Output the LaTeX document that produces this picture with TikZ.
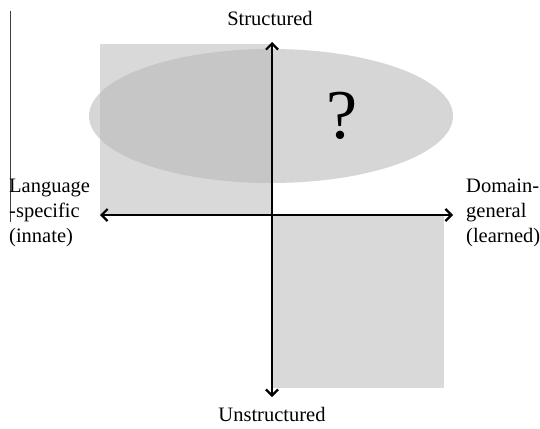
\documentclass[tikz,border=0pt]{standalone}
\usepackage{fontspec}
\setmainfont{Liberation Serif}
\usetikzlibrary{arrows.meta}
\definecolor{boxgray}{HTML}{D9D9D9}
\definecolor{ellgray}{HTML}{D6D6D6}
\definecolor{overgray}{HTML}{C6C6C6}
\tikzset{
  lbl/.style={font=\fontsize{20.5}{25}\selectfont, inner sep=0pt},
  axis/.style={line width=2.2pt, {Straight Barb[length=6pt,width=12pt,line width=2.2pt]}-{Straight Barb[length=6pt,width=12pt,line width=2.2pt]}},
}
\begin{document}
\begin{tikzpicture}[x=1pt,y=-1pt]
\useasboundingbox (0,0) rectangle (540,428);
% boxes
\fill[boxgray] (100,44) rectangle (272,215);
\fill[boxgray] (272,215) rectangle (444,388);
% ellipse
\fill[ellgray] (271,116) ellipse [x radius=182, y radius=67];
\begin{scope}
  \clip (100,44) rectangle (272,215);
  \fill[overgray] (271,116) ellipse [x radius=182, y radius=67];
\end{scope}
% thin left line
\draw[line width=0.8pt, black!75] (10,11) -- (10,222);
% axes
\coordinate (top) at (272,42);
\coordinate (bot) at (272,397);
\coordinate (left) at (100,215);
\coordinate (right) at (453,215);
\draw[axis] (bot) -- (top);
\draw[axis] (left) -- (right);
% labels
\node[lbl] (s) at (270,18) {Structured};
\node[lbl] (u) at (272,414) {Unstructured};
\node[lbl, align=left, anchor=west] (ls) at (9,213) {Language\\-specific\\(innate)};
\node[lbl, align=left, anchor=west] (dg) at (466,213) {Domain-\\general\\(learned)};
\node[inner sep=0pt, font=\fontsize{70}{72}\selectfont] (q) at (342,116) {?};
\end{tikzpicture}
\end{document}
